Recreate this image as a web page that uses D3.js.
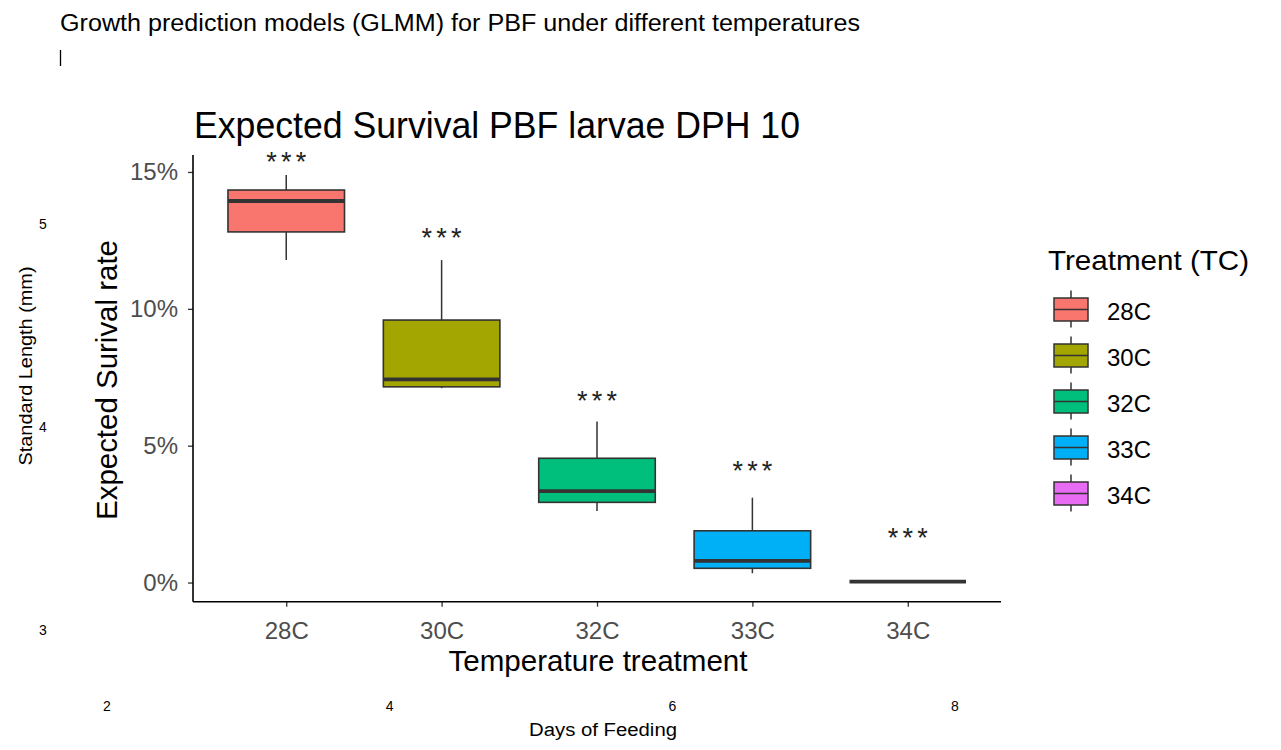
<!DOCTYPE html>
<html>
<head>
<meta charset="utf-8">
<script src="https://cdn.jsdelivr.net/npm/d3@7"></script>
<style>
  html, body { margin: 0; padding: 0; background: #ffffff; }
  svg { display: block; font-family: "Liberation Sans", Arial, sans-serif; }
</style>
</head>
<body>
<svg id="chart" width="1281" height="750"></svg>
<script>
// ---- data ----
const categories = ["28C", "30C", "32C", "33C", "34C"];
const whiskerLow  = [11.78, 7.10, 2.61, 0.34, 0.03];
const q1          = [12.81, 7.15, 2.93, 0.52, 0.03];
const medians     = [13.94, 7.42, 3.34, 0.79, 0.03];
const q3          = [14.34, 9.59, 4.54, 1.89, 0.03];
const whiskerHigh = [14.89, 11.78, 5.88, 3.10, 0.03];
const sigLabels   = ["***", "***", "***", "***", "***"];
const sigY        = [15.55, 12.77, 6.81, 4.26, 1.82];
const yTicks      = [0, 5, 10, 15];
const colors      = ["#F8766D", "#A3A500", "#00BF7D", "#00B0F6", "#E76BF3"];

// underlying (background) chart text
const bgLeftTicks   = [5, 4, 3];
const bgBottomTicks = [2, 4, 6, 8];

(function () {
const svg = d3.select("#chart");

// ---- background chart remnants ----
const bgY = d3.scaleLinear().domain([3, 5]).range([630, 224]);
const bgX = d3.scaleLinear().domain([2, 8]).range([107, 955]);

svg.append("text").attr("x", 60).attr("y", 31)
  .attr("font-size", 23).attr("fill", "#000")
  .attr("textLength", 800).attr("lengthAdjust", "spacingAndGlyphs")
  .text("Growth prediction models (GLMM) for PBF under different temperatures");
svg.append("line").attr("x1", 60.5).attr("x2", 60.5).attr("y1", 50).attr("y2", 66)
  .attr("stroke", "#000").attr("stroke-width", 1.3);

svg.append("g").selectAll("text").data(bgLeftTicks).join("text")
  .attr("x", 43).attr("y", d => bgY(d) + 5)
  .attr("text-anchor", "middle").attr("font-size", 14).attr("fill", "#000")
  .text(d => d);
svg.append("text")
  .attr("transform", "translate(32,366) rotate(-90)")
  .attr("text-anchor", "middle").attr("font-size", 18).attr("fill", "#000")
  .attr("textLength", 199).attr("lengthAdjust", "spacingAndGlyphs")
  .text("Standard Length (mm)");
svg.append("g").selectAll("text").data(bgBottomTicks).join("text")
  .attr("x", d => bgX(d)).attr("y", 711)
  .attr("text-anchor", "middle").attr("font-size", 14).attr("fill", "#000")
  .text(d => d);
svg.append("text").attr("x", 603).attr("y", 736)
  .attr("text-anchor", "middle").attr("font-size", 18).attr("fill", "#000")
  .attr("textLength", 148).attr("lengthAdjust", "spacingAndGlyphs")
  .text("Days of Feeding");

// ---- main boxplot ----
const pLeft = 193, pRight = 1001, pTop = 155, pBottom = 601.7;
const x = d3.scalePoint().domain(categories).range([pLeft, pRight]).padding(0.6);
const y = d3.scaleLinear().domain([-0.7, 15.62]).range([pBottom, pTop]);
const boxW = x.step() * 0.75;

const boxes = categories.map((c, i) => ({
  cat: c, lo: whiskerLow[i], q1: q1[i], med: medians[i], q3: q3[i], hi: whiskerHigh[i],
  color: colors[i], sig: sigLabels[i], sigY: sigY[i]
}));

// title
svg.append("text").attr("x", 194).attr("y", 138)
  .attr("font-size", 37).attr("fill", "#000")
  .attr("textLength", 606).attr("lengthAdjust", "spacingAndGlyphs")
  .text("Expected Survival PBF larvae DPH 10");

const g = svg.append("g");
const bx = g.selectAll("g.box").data(boxes).join("g").attr("class", "box");
bx.append("line")
  .attr("x1", d => x(d.cat)).attr("x2", d => x(d.cat))
  .attr("y1", d => y(d.hi)).attr("y2", d => y(d.q3))
  .attr("stroke", "#333").attr("stroke-width", 1.5);
bx.append("line")
  .attr("x1", d => x(d.cat)).attr("x2", d => x(d.cat))
  .attr("y1", d => y(d.q1)).attr("y2", d => y(d.lo))
  .attr("stroke", "#333").attr("stroke-width", 1.5);
bx.append("rect")
  .attr("x", d => x(d.cat) - boxW / 2).attr("width", boxW)
  .attr("y", d => y(d.q3)).attr("height", d => Math.max(0, y(d.q1) - y(d.q3)))
  .attr("fill", d => d.color).attr("stroke", "#333").attr("stroke-width", 1.6);
bx.append("line")
  .attr("x1", d => x(d.cat) - boxW / 2).attr("x2", d => x(d.cat) + boxW / 2)
  .attr("y1", d => y(d.med)).attr("y2", d => y(d.med))
  .attr("stroke", "#333").attr("stroke-width", 3.8);
bx.append("text")
  .attr("x", d => x(d.cat)).attr("y", d => y(d.sigY) + 14)
  .attr("text-anchor", "middle").attr("font-size", 27).attr("fill", "#222")
  .attr("textLength", 40).attr("lengthAdjust", "spacing")
  .text(d => d.sig);

// axes
const yAxis = d3.axisLeft(y).tickValues(yTicks).tickFormat(d => d + "%").tickSize(5).tickPadding(10);
const yg = svg.append("g").attr("transform", `translate(${pLeft},0)`).call(yAxis);
yg.select(".domain").remove();
yg.append("line").attr("x1", 0).attr("x2", 0).attr("y1", pTop).attr("y2", pBottom)
  .attr("stroke", "#000").attr("stroke-width", 1.6);
yg.selectAll(".tick line").attr("stroke", "#333").attr("stroke-width", 1.3);
yg.selectAll(".tick text").attr("font-size", 24).attr("fill", "#4D4D4D")
  .attr("font-family", "Liberation Sans, Arial, sans-serif");

const xAxis = d3.axisBottom(x).tickSize(5).tickPadding(15);
const xg = svg.append("g").attr("transform", `translate(0,${pBottom})`).call(xAxis);
xg.select(".domain").remove();
xg.append("line").attr("x1", pLeft).attr("x2", pRight).attr("y1", 0).attr("y2", 0)
  .attr("stroke", "#000").attr("stroke-width", 1.6);
xg.selectAll(".tick line").attr("stroke", "#333").attr("stroke-width", 1.3);
xg.selectAll(".tick text").attr("font-size", 24).attr("fill", "#4D4D4D")
  .attr("font-family", "Liberation Sans, Arial, sans-serif");

// axis titles
svg.append("text").attr("x", 598).attr("y", 671)
  .attr("text-anchor", "middle").attr("font-size", 29).attr("fill", "#000")
  .attr("textLength", 299).attr("lengthAdjust", "spacingAndGlyphs")
  .text("Temperature treatment");
svg.append("text")
  .attr("transform", "translate(117,380) rotate(-90)")
  .attr("text-anchor", "middle").attr("font-size", 29).attr("fill", "#000")
  .attr("textLength", 280).attr("lengthAdjust", "spacingAndGlyphs")
  .text("Expected Surival rate");

// legend
const lg = svg.append("g").attr("transform", "translate(1048,0)");
lg.append("text").attr("x", 0).attr("y", 270)
  .attr("font-size", 28).attr("fill", "#000")
  .attr("textLength", 201).attr("lengthAdjust", "spacingAndGlyphs")
  .text("Treatment (TC)");
const items = lg.selectAll("g.item").data(boxes).join("g").attr("class", "item")
  .attr("transform", (d, i) => `translate(0,${309.5 + i * 46})`);
items.append("line").attr("x1", 23).attr("x2", 23).attr("y1", -19).attr("y2", 18)
  .attr("stroke", "#333").attr("stroke-width", 1.5);
items.append("rect").attr("x", 6).attr("y", -11.5).attr("width", 34).attr("height", 23)
  .attr("fill", d => d.color).attr("stroke", "#333").attr("stroke-width", 1.5);
items.append("line").attr("x1", 6).attr("x2", 40).attr("y1", 0).attr("y2", 0)
  .attr("stroke", "#333").attr("stroke-width", 1.5);
items.append("text").attr("x", 59).attr("y", 10)
  .attr("font-size", 24).attr("fill", "#000")
  .text(d => d.cat);
})();
</script>
</body>
</html>
